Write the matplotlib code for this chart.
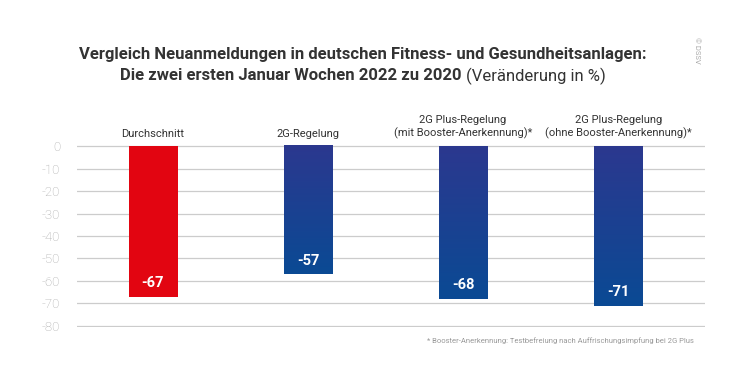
import numpy as np
import matplotlib.pyplot as plt
import matplotlib.font_manager as fm

categories = ['Durchschnitt', '2G-Regelung',
              '2G Plus-Regelung\n(mit Booster-Anerkennung)*',
              '2G Plus-Regelung\n(ohne Booster-Anerkennung)*']
values = [-67, -57, -68, -71]
yticks = [0, -10, -20, -30, -40, -50, -60, -70, -80]

names = {f.name for f in fm.fontManager.ttflist}
fam = ['Roboto', 'DejaVu Sans']
fam = [f for f in fam if f in names] or ['DejaVu Sans']
plt.rcParams['font.family'] = fam

fig = plt.figure(figsize=(7.48, 3.9), dpi=100)
ax = fig.add_axes([77 / 748, 1 - 327 / 390, 628 / 748, 182 / 390])

x = np.arange(len(values))
w = 0.31
red_top, red_bot = np.array([0.89, 0.02, 0.07]), np.array([0.89, 0.02, 0.07])
blue_top, blue_bot = np.array([0.17, 0.22, 0.56]), np.array([0.04, 0.29, 0.58])
for i, v in enumerate(values):
    top, bot = (red_top, red_bot) if i == 0 else (blue_top, blue_bot)
    t = np.linspace(0, 1, 100)[:, None]
    grad = top * (1 - t) + bot * t
    ax.imshow(grad[:, None, :], extent=[i - w / 2, i + w / 2, v, 0],
              aspect='auto', zorder=3, interpolation='bilinear')
    ax.text(i, v + 6, str(v), ha='center', va='center', color='white',
            fontsize=10.5, fontweight='bold', zorder=4)
    ax.text(i, 3, categories[i], ha='center', va='bottom', color='#333333',
            fontsize=8, linespacing=1.35, clip_on=False)

ax.set_xlim(-0.49, 3.56)
ax.set_ylim(-80.5, 0.5)
ax.set_yticks(yticks)
ax.set_yticklabels([str(t) for t in yticks])
ax.set_xticks([])
ax.tick_params(axis='y', length=0, pad=12, labelsize=9.5, labelcolor='#a8a8a8')
for lbl in ax.get_yticklabels():
    lbl.set_fontweight('light')
for s in ax.spines.values():
    s.set_visible(False)
ax.grid(axis='y', color='#cccccc', linewidth=0.9, zorder=0)
ax.set_axisbelow(True)

cx = 0.485
fig.text(cx, 1 - 55 / 390, 'Vergleich Neuanmeldungen in deutschen Fitness- und Gesundheitsanlagen:',
         ha='center', va='center', fontsize=12, fontweight='bold', color='#333333')
t1 = fig.text(0, 1 - 76 / 390, 'Die zwei ersten Januar Wochen 2022 zu 2020 ',
              ha='left', va='center', fontsize=12, fontweight='bold', color='#333333')
t2 = fig.text(0, 1 - 76 / 390, '(Veränderung in %)',
              ha='left', va='center', fontsize=12, color='#333333')
fig.canvas.draw()
r = fig.canvas.get_renderer()
w1 = t1.get_window_extent(r).width / fig.bbox.width
w2 = t2.get_window_extent(r).width / fig.bbox.width
start = cx - (w1 + w2) / 2
t1.set_x(start)
t2.set_x(start + w1)

fig.text(697 / 748, 1 - 50 / 390, '© DSSV', rotation=270, ha='center', va='center',
         fontsize=5.5, color='#aaaaaa')
fig.text(694 / 748, 1 - 341 / 390,
         '* Booster-Anerkennung: Testbefreiung nach Auffrischungsimpfung bei 2G Plus',
         ha='right', va='center', fontsize=5.5, color='#999999')

fig.savefig('out.png', dpi=100)
